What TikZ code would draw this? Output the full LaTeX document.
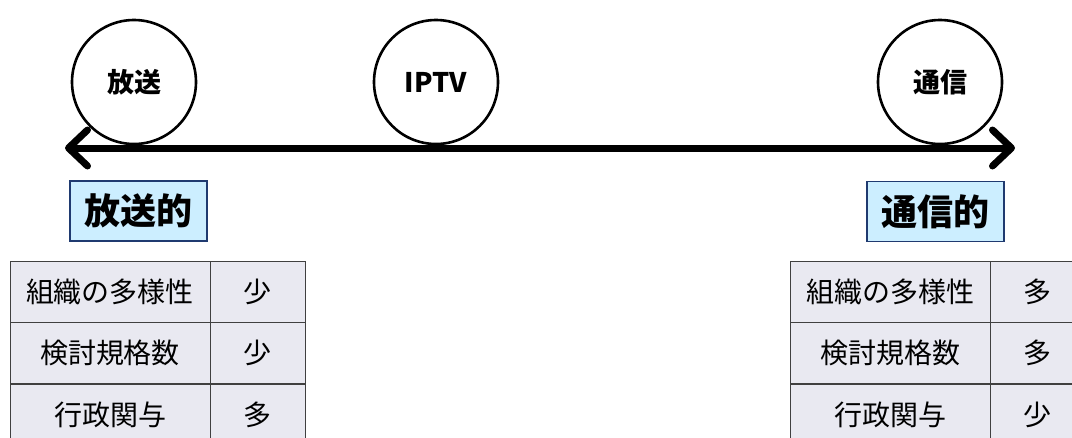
\documentclass[tikz,border=0pt]{standalone}
\usepackage{fontspec}
\setmainfont{Noto Sans CJK JP}
\usepackage{tikz}
\usetikzlibrary{arrows.meta}
\definecolor{boxblue}{HTML}{CCEEFF}
\definecolor{boxnavy}{HTML}{1F3A70}
\definecolor{cellgray}{HTML}{E9E9F1}
\definecolor{cellline}{HTML}{404040}

\begin{document}
\begin{tikzpicture}[x=1pt, y=-1pt,
	mode/.style={draw, circle, line width=2.6pt, fill=white, minimum size=124pt, inner sep=0pt, font=\bfseries\fontsize{27}{30}\selectfont},
	tag/.style={draw=boxnavy, fill=boxblue, line width=1.8pt, minimum width=137pt, minimum height=60pt, inner sep=0pt, font=\bfseries\fontsize{36}{40}\selectfont},
	keycell/.style={draw=cellline, fill=cellgray, line width=1pt, minimum width=200pt, minimum height=61pt, inner sep=0pt, font=\fontsize{28}{32}\selectfont},
	valcell/.style={keycell, minimum width=95pt}]
			%%%%% START %%%%%
			\useasboundingbox (0, 0) rectangle (1072, 437);
			
			\node[mode] (broadcast) at (134, 82) {放送};
			\node[mode] (iptv) at (436, 82) {IPTV};
			\node[mode] (telecom) at (940, 82) {通信};
			
			\coordinate (leftend) at (65, 148);
			\coordinate (rightend) at (1015, 148);
			\draw[line width=7pt, {Straight Barb[length=19pt, width=36pt, round]}-{Straight Barb[length=19pt, width=36pt, round]}] (leftend) -- (rightend);
			
			\node[tag] (broadcastish) at (138.5, 211) {放送的};
			\node[tag] (telecomish) at (935.5, 211.5) {通信的};
			
			% left table
			\node[keycell] (lkey1) at (110, 292) {組織の多様性};
			\node[valcell] (lval1) at (257.5, 292) {少};
			\node[keycell] (lkey2) at (110, 353) {検討規格数};
			\node[valcell] (lval2) at (257.5, 353) {少};
			\node[keycell] (lkey3) at (110, 414.5) {行政関与};
			\node[valcell] (lval3) at (257.5, 414.5) {多};
			
			% right table
			\node[keycell] (rkey1) at (890, 292) {組織の多様性};
			\node[valcell] (rval1) at (1037.5, 292) {多};
			\node[keycell] (rkey2) at (890, 353) {検討規格数};
			\node[valcell] (rval2) at (1037.5, 353) {多};
			\node[keycell] (rkey3) at (890, 414.5) {行政関与};
			\node[valcell] (rval3) at (1037.5, 414.5) {少};
			
			%%%%% END %%%%%
\end{tikzpicture}
\end{document}
